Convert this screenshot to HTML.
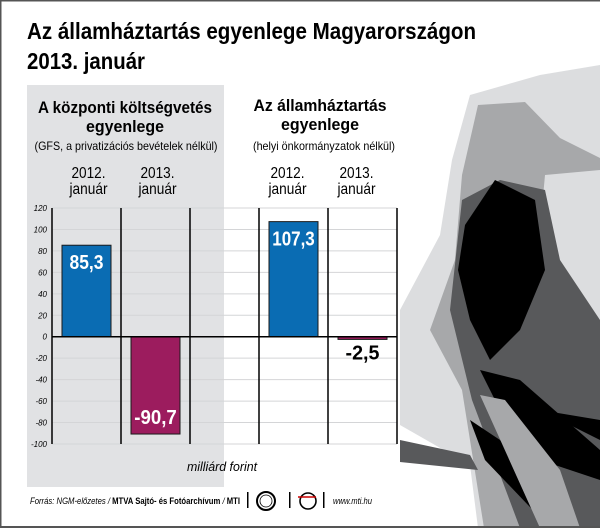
<!DOCTYPE html>
<html><head><meta charset="utf-8"><style>
html,body{margin:0;padding:0;background:#fff}
svg{display:block;font-family:"Liberation Sans",sans-serif}
</style></head><body>
<svg width="600" height="528" viewBox="0 0 600 528">
<rect x="0" y="0" width="600" height="528" fill="#fff"/>
<g>
<polygon fill="#dcdddf" points="470,95 540,75 600,65 600,528 478,528 470,465 400,425 400,310 440,235 452,160"/>
<polygon fill="#a7a8aa" points="478,105 525,102 560,138 600,158 600,528 484,528 462,390 430,330 455,260 462,175"/>
<polygon fill="#dcdddf" points="545,175 600,170 600,330 560,300 540,230"/>
<polygon fill="#58595b" points="462,200 500,180 545,190 560,260 600,320 600,528 520,528 472,400 450,310"/>
<polygon fill="#000" points="465,225 495,180 535,200 545,270 520,330 490,360 470,320 458,270"/>
<polygon fill="#000" points="480,370 520,380 600,450 600,480 540,460 500,410"/>
<polygon fill="#000" points="470,420 500,440 580,528 550,528 485,460"/>
<polygon fill="#000" points="540,410 600,420 600,440"/>
<polygon fill="#a7a8aa" points="480,395 505,400 560,470 580,528 540,528"/>
<polygon fill="#58595b" points="400,440 470,455 478,470 400,462"/>
</g>
<rect x="27" y="85" width="197" height="402" fill="#e1e2e4"/>
<text x="27" y="39" font-size="23" font-weight="bold" textLength="449" lengthAdjust="spacingAndGlyphs">Az államháztartás egyenlege Magyarországon</text>
<text x="27" y="69" font-size="23" font-weight="bold" textLength="118" lengthAdjust="spacingAndGlyphs">2013. január</text>
<g font-weight="bold" font-size="17" text-anchor="middle">
<text x="125" y="113" textLength="174" lengthAdjust="spacingAndGlyphs">A központi költségvetés</text>
<text x="125" y="132" textLength="78" lengthAdjust="spacingAndGlyphs">egyenlege</text>
<text x="320" y="111" textLength="133" lengthAdjust="spacingAndGlyphs">Az államháztartás</text>
<text x="320" y="130" textLength="78" lengthAdjust="spacingAndGlyphs">egyenlege</text>
</g>
<g font-size="12" text-anchor="middle">
<text x="126" y="150" textLength="183" lengthAdjust="spacingAndGlyphs">(GFS, a privatizációs bevételek nélkül)</text>
<text x="324" y="150" textLength="142" lengthAdjust="spacingAndGlyphs">(helyi önkormányzatok nélkül)</text>
</g>
<g id="catlabels" font-size="16" text-anchor="middle"></g>
<g id="grid"></g>
<g id="bars"></g>
<text x="222" y="471" font-size="13" font-style="italic" text-anchor="middle" textLength="70" lengthAdjust="spacingAndGlyphs">milliárd forint</text>
<g font-size="9" font-style="italic">
<text x="30" y="504" textLength="210" lengthAdjust="spacingAndGlyphs">Forrás: NGM-előzetes / <tspan font-weight="bold" font-style="normal">MTVA Sajtó- és Fotóarchívum</tspan> / <tspan font-weight="bold" font-style="normal">MTI</tspan></text>
<rect x="247" y="492" width="1.5" height="16" fill="#000"/>
<circle cx="266" cy="501" r="9" fill="none" stroke="#000" stroke-width="2"/>
<circle cx="266" cy="501" r="6" fill="none" stroke="#000" stroke-width="0.8"/>
<rect x="289" y="492" width="1.5" height="16" fill="#000"/>
<circle cx="308" cy="501" r="8" fill="none" stroke="#000" stroke-width="1.6"/>
<line x1="298" y1="497" x2="316" y2="497" stroke="#c00" stroke-width="1.5"/>
<rect x="323" y="492" width="1.5" height="16" fill="#000"/>
<text x="333" y="504" textLength="39" lengthAdjust="spacingAndGlyphs">www.mti.hu</text>
</g>
<rect x="0" y="0" width="600" height="1.5" fill="#555"/>
<rect x="0" y="0" width="1.5" height="528" fill="#555"/>
<rect x="0" y="526" width="600" height="2" fill="#555"/>
<script>
const categories=['2012. január','2013. január','','2012. január','2013. január'];
const values=[85.3,-90.7,null,107.3,-2.5];
const valueLabels=['85,3','-90,7','','107,3','-2,5'];
const yTicks=[120,100,80,60,40,20,0,-20,-40,-60,-80,-100];
const NS='http://www.w3.org/2000/svg';
const x0=52,x1=397,yTop=208,yBot=444,yMax=120,yMin=-100;
const bw=(x1-x0)/categories.length;
function y(v){return yTop+(yMax-v)/(yMax-yMin)*(yBot-yTop);}
function xc(i){return x0+bw*i;}
function mk(tag,attrs,parent){const e=document.createElementNS(NS,tag);for(const k in attrs)e.setAttribute(k,attrs[k]);parent.appendChild(e);return e;}
const grid=document.getElementById('grid'),bars=document.getElementById('bars'),cl=document.getElementById('catlabels');
yTicks.forEach(t=>{
 if(t!==0){const l=mk('line',{x1:x0,x2:x1,y1:y(t),y2:y(t),stroke:'#d4d5d7','stroke-width':1},grid);
 
 }
 const tx=mk('text',{x:x0-5,y:y(t)+3,'font-size':8,'font-style':'italic','text-anchor':'end'},grid);
 
 
 tx.textContent=t;
});
for(let i=0;i<=categories.length;i++){
 const l=mk('line',{x1:xc(i),x2:xc(i),y1:yTop,y2:yBot,stroke:'#000','stroke-width':1.5},grid);
 
 
}
categories.forEach((c,i)=>{
 if(!c)return;
 const parts=c.split(' ');
 const cx=xc(i)+bw/2+(i<2?2:-6);
 const t1=mk('text',{x:cx,y:178,textLength:34,lengthAdjust:'spacingAndGlyphs'},cl);
 
 
 t1.textContent=parts[0];
 const t2=mk('text',{x:cx,y:194,textLength:38,lengthAdjust:'spacingAndGlyphs'},cl);
 
 
 t2.textContent=parts[1];
});
values.forEach((v,i)=>{
 if(v===null)return;
 const bx=xc(i)+10,w=bw-20;
 const top=Math.min(y(v),y(0)),h=Math.abs(y(v)-y(0));
 const r=mk('rect',{x:bx,y:top,width:w,height:Math.max(h,1.5),fill:v>=0?'#0a6cb3':'#9c1c5e',stroke:'#1a1a1a','stroke-width':1},bars);
 
 
 const big=h>30;
 const ty=big?(v>=0?y(v)+24:y(v)-10):y(0)+23;
 const t=mk('text',{x:bx+w/2,y:ty,'font-size':20,'font-weight':'bold','text-anchor':'middle',fill:big?'#fff':'#000',textLength:valueLabels[i].length*8.5,lengthAdjust:'spacingAndGlyphs'},bars);
 
 
 t.textContent=valueLabels[i];
});
const z=mk('line',{x1:x0,x2:x1,y1:y(0),y2:y(0),stroke:'#000','stroke-width':1.5},bars);


</script>
</svg>
</body></html>
